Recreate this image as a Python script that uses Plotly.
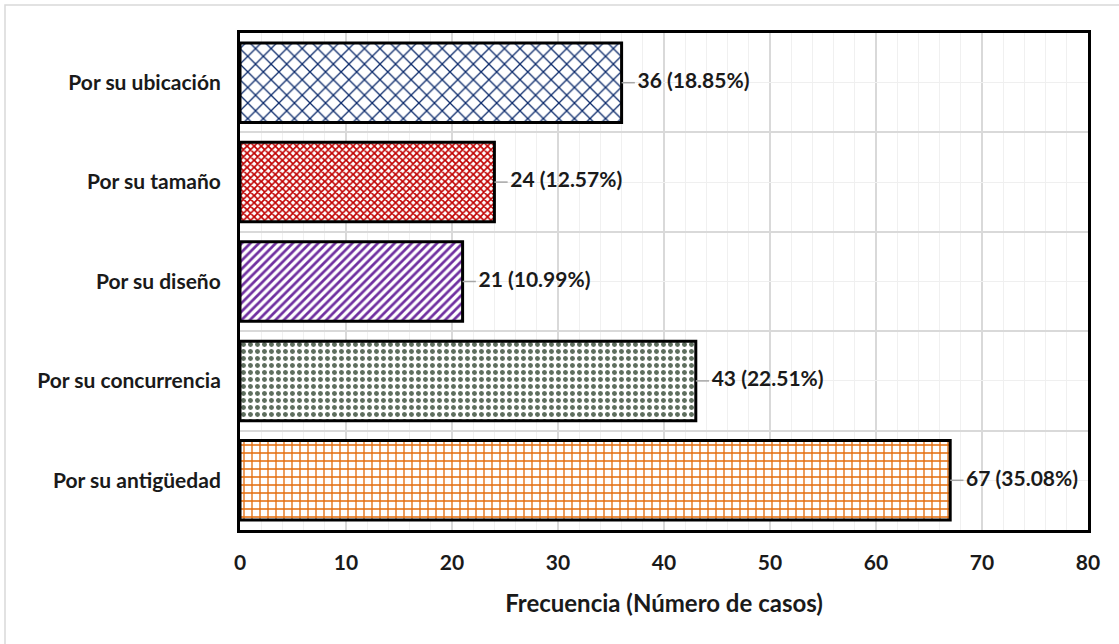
import plotly.graph_objects as go

categories = ["Por su antigüedad", "Por su concurrencia", "Por su diseño", "Por su tamaño", "Por su ubicación"]
counts = [67, 43, 21, 24, 36]
percents = [35.08, 22.51, 10.99, 12.57, 18.85]
pattern_shapes = ["+", ".", "/", "x", "x"]
pattern_colors = ["#E46C0A", "#5E6E5E", "#7030A0", "#C00000", "#0B2A6B"]
pattern_sizes = [8, 7, 6, 5, 11]
pattern_solid = [0.3, 0.4, 0.45, 0.55, 0.22]

x_ticks = list(range(0, 81, 10))
FONT = "Lato"

ypos = list(range(len(categories)))
labels = [f"{c} ({p:.2f}%)" for c, p in zip(counts, percents)]

fig = go.Figure()
fig.add_trace(go.Bar(
    x=counts, y=ypos, orientation="h", width=0.8,
    marker=dict(
        color="white",
        line=dict(color="black", width=3),
        pattern=dict(shape=pattern_shapes, fgcolor=pattern_colors, bgcolor="white",
                     size=pattern_sizes, solidity=pattern_solid, fillmode="replace"),
    ),
    hoverinfo="skip", showlegend=False,
))

# leader lines
lx, ly = [], []
for v, y in zip(counts, ypos):
    lx += [v, v + 1.25, None]
    ly += [y, y, None]
fig.add_trace(go.Scatter(x=lx, y=ly, mode="lines", line=dict(color="#A6A6A6", width=1.5),
                         hoverinfo="skip", showlegend=False))
fig.add_trace(go.Scatter(x=[v + 1.5 for v in counts], y=ypos, mode="text", text=labels,
                         textposition="middle right",
                         textfont=dict(family=FONT, size=21, color="#1a1a1a", weight="bold"),
                         hoverinfo="skip", showlegend=False, cliponaxis=False))

fig.update_layout(
    width=1119, height=644,
    margin=dict(l=240, r=31, t=33, b=114, pad=0),
    paper_bgcolor="white", plot_bgcolor="white",
    font=dict(family=FONT, size=21, color="#1a1a1a"),
    xaxis=dict(
        range=[0, 80], tickvals=x_ticks, showgrid=True, gridcolor="#D9D9D9", gridwidth=1.5,
        minor=dict(dtick=2, showgrid=True, gridcolor="#F0F0F0", gridwidth=1),
        zeroline=False, showline=True, linecolor="black", linewidth=3, mirror=True,
        ticks="", ticklabelstandoff=12, tickfont=dict(family=FONT, size=21, weight="bold"),
        title=dict(text="Frecuencia (Número de casos)", font=dict(family=FONT, size=24, weight="bold"),
                   standoff=22),
    ),
    yaxis=dict(
        range=[-0.5, len(categories) - 0.5], tickvals=ypos, ticktext=categories,
        showgrid=True, gridcolor="#EFEFEF", gridwidth=1,
        minor=dict(tickvals=[i - 0.5 for i in range(len(categories) + 1)], showgrid=True,
                   gridcolor="#D9D9D9", gridwidth=1.5),
        zeroline=False, showline=True, linecolor="black", linewidth=3, mirror=True,
        ticks="", ticklabelstandoff=12,
        tickfont=dict(family=FONT, size=21, weight="bold"),
    ),
    shapes=[dict(type="rect", xref="paper", yref="paper",
                 x0=(5 - 240) / 848, x1=1.2, y0=-0.4, y1=(530 - 5) / 497,
                 line=dict(color="#D9D9D9", width=1.5), fillcolor="rgba(0,0,0,0)", layer="below")],
)

fig.write_html("out.html", config={"displayModeBar": False},
               post_script="document.body.style.margin='0';document.body.style.overflow='hidden';")
